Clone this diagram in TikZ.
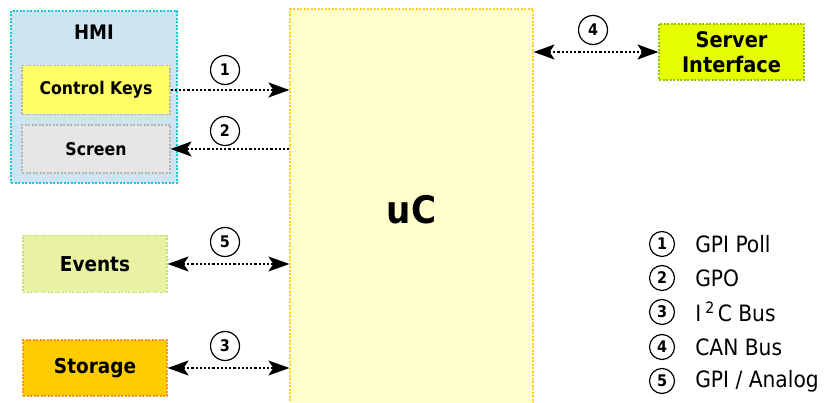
\documentclass[tikz,border=0pt]{standalone}
\usepackage{fontspec}
\setmainfont{DejaVu Sans Condensed}
\usetikzlibrary{arrows.meta}
\definecolor{hmifill}{RGB}{206,228,242}
\definecolor{hmiline}{RGB}{20,200,210}
\definecolor{ckfill}{RGB}{255,255,102}
\definecolor{greyline}{RGB}{180,180,180}
\definecolor{scfill}{RGB}{230,230,230}
\definecolor{ucfill}{RGB}{255,255,204}
\definecolor{ucline}{RGB}{255,205,40}
\definecolor{svfill}{RGB}{230,255,0}
\definecolor{svline}{RGB}{150,195,0}
\definecolor{evfill}{RGB}{232,242,162}
\definecolor{evline}{RGB}{195,222,120}
\definecolor{stfill}{RGB}{255,204,0}
\definecolor{stline}{RGB}{255,145,30}
\begin{document}
\begin{tikzpicture}[x=1pt,y=1pt,
  box/.style={draw, line width=1.2pt, dash pattern=on 2pt off 1.5pt, inner sep=0pt, align=center},
  num/.style={circle, draw, line width=1.2pt, minimum size=#1, inner sep=0pt, font=\fontsize{16}{16}\selectfont\bfseries},
  num/.default=29pt,
  conn/.style={line width=1.6pt, dash pattern=on 2.2pt off 2pt},
  legtext/.style={anchor=west, inner sep=0pt, font=\fontsize{22.5}{22.5}\selectfont},
  >={Stealth[length=21pt,width=15pt,inset=5pt]}
]
\useasboundingbox (0,0) rectangle (829,403);
% boxes
\node[box, draw=hmiline, fill=hmifill, minimum width=166pt, minimum height=172pt] (hmi) at (94,306) {};
\node[font=\fontsize{20}{20}\selectfont\bfseries] (hmit) at (94,371) {HMI};
\node[box, draw=greyline, fill=ckfill, minimum width=148pt, minimum height=49pt, font=\fontsize{17.5}{17.5}\selectfont\bfseries] (ck) at (96,313) {Control Keys};
\node[box, draw=greyline, fill=scfill, minimum width=148pt, minimum height=48pt, font=\fontsize{17.5}{17.5}\selectfont\bfseries] (sc) at (96,254) {Screen};
\node[box, draw=ucline, fill=ucfill, minimum width=243pt, minimum height=401pt, font=\fontsize{38}{38}\selectfont\bfseries] (uc) at (411.5,193.5) {uC};
\node[box, draw=svline, fill=svfill, minimum width=145pt, minimum height=56pt, font=\fontsize{21.5}{25}\selectfont\bfseries] (sv) at (731.5,351) {Server\\Interface};
\node[box, draw=evline, fill=evfill, minimum width=144pt, minimum height=57pt, font=\fontsize{20.5}{20.5}\selectfont\bfseries] (ev) at (95,139) {Events};
\node[box, draw=stline, fill=stfill, minimum width=144pt, minimum height=56pt, font=\fontsize{20.5}{20.5}\selectfont\bfseries] (st) at (95,35) {Storage};
% connectors
\draw[conn,->] (ck.east) -- (ck.east -| uc.west);
\draw[conn,->] (sc.east -| uc.west) -- (sc.east);
\draw[conn,<->] (ev.east) -- (ev.east -| uc.west);
\draw[conn,<->] (st.east) -- (st.east -| uc.west);
\draw[conn,<->] (uc.east |- sv.west) -- (sv.west);
% connector labels
\node[num] (n1) at (225,333) {1};
\node[num] (n2) at (225,272) {2};
\node[num] (n5) at (225,161) {5};
\node[num] (n3) at (225,57) {3};
\node[num] (n4) at (593,373) {4};
% legend
\node[num=25pt] (l1) at (662,159) {1};
\node[num=25pt] (l2) at (662,125) {2};
\node[num=25pt] (l3) at (662,91) {3};
\node[num=25pt] (l4) at (662,56) {4};
\node[num=25pt] (l5) at (662,22) {5};
\node[legtext] (t1) at ([xshift=20pt]l1.east) {GPI Poll};
\node[legtext] (t2) at ([xshift=20pt]l2.east) {GPO};
\node[legtext] (t3) at ([xshift=20pt]l3.east) {I\hspace{4pt}\textsuperscript{2}\hspace{3pt}C Bus};
\node[legtext] (t4) at ([xshift=20pt]l4.east) {CAN Bus};
\node[legtext] (t5) at ([xshift=20pt]l5.east) {GPI / Analog};
\end{tikzpicture}
\end{document}
